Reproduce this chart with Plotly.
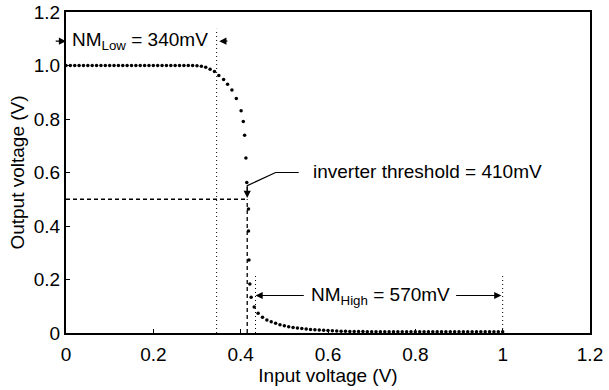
import plotly.graph_objects as go

# ---- data ----
vin_flat = [round(0.01 * i, 2) for i in range(0, 29)]
vout_flat = [1.0] * len(vin_flat)

vin_knee = [0.290, 0.300, 0.310, 0.320, 0.330, 0.340, 0.350, 0.361, 0.370, 0.380,
            0.390, 0.401, 0.406, 0.409, 0.412, 0.414, 0.418, 0.418, 0.419, 0.421,
            0.424, 0.431]
vout_knee = [1.000, 0.999, 0.997, 0.993, 0.986, 0.978, 0.963, 0.948, 0.930, 0.908,
             0.877, 0.831, 0.791, 0.739, 0.654, 0.563, 0.464, 0.381, 0.273, 0.183,
             0.134, 0.097]

vin_tail = [round(0.44 + 0.01 * i, 2) for i in range(0, 57)]
vout_tail = [0.074, 0.059, 0.049, 0.042, 0.036, 0.031, 0.027, 0.023, 0.021, 0.019,
             0.017, 0.015, 0.013, 0.012, 0.011, 0.010, 0.009, 0.008, 0.0075, 0.007,
             0.0065, 0.006, 0.006, 0.0055, 0.0055, 0.005, 0.005, 0.005, 0.005, 0.005,
             0.005, 0.005, 0.005, 0.005, 0.005, 0.005, 0.005, 0.005, 0.005, 0.005,
             0.005, 0.005, 0.005, 0.005, 0.005, 0.005, 0.005, 0.005, 0.005, 0.005,
             0.005, 0.005, 0.005, 0.005, 0.005, 0.005, 0.005]

vin = vin_flat + vin_knee + vin_tail
vout = vout_flat + vout_knee + vout_tail

x_ticks = [0, 0.2, 0.4, 0.6, 0.8, 1.0, 1.2]
x_ticktext = ["0", "0.2", "0.4", "0.6", "0.8", "1", "1.2"]
y_ticks = [0, 0.2, 0.4, 0.6, 0.8, 1.0, 1.2]
y_ticktext = ["0", "0.2", "0.4", "0.6", "0.8", "1.0", "1.2"]

v_threshold = 0.415      # inverter threshold (drawn position)
v_half = 0.5
nm_low_edge = 0.345
nm_high_edge = 0.434
v_supply = 1.0

FONT = "Liberation Sans, Arial, Helvetica, sans-serif"

fig = go.Figure()

# reference lines
fig.add_trace(go.Scatter(x=[0, v_threshold], y=[v_half, v_half], mode="lines",
                         line=dict(color="black", width=1.3, dash="4px,3px"),
                         hoverinfo="skip", showlegend=False))
fig.add_trace(go.Scatter(x=[v_threshold, v_threshold], y=[0, v_half], mode="lines",
                         line=dict(color="black", width=1.3, dash="4px,3px"),
                         hoverinfo="skip", showlegend=False))
for xv, ytop in [(nm_low_edge, 1.137), (nm_high_edge, 0.213), (v_supply, 0.213)]:
    fig.add_trace(go.Scatter(x=[xv, xv], y=[0, ytop], mode="lines",
                             line=dict(color="black", width=1, dash="1px,3px"),
                             hoverinfo="skip", showlegend=False))

# callout polyline
fig.add_trace(go.Scatter(x=[v_threshold, v_threshold, 0.480, 0.533],
                         y=[0.53, 0.551, 0.600, 0.600], mode="lines",
                         line=dict(color="black", width=1.2),
                         hoverinfo="skip", showlegend=False))

# transfer curve
fig.add_trace(go.Scatter(x=vin, y=vout, mode="markers", cliponaxis=False,
                         marker=dict(color="black", size=3.5, line=dict(width=0)),
                         showlegend=False))

def arrow(x_tip, y_tip, x_tail, y_tail):
    fig.add_annotation(x=x_tip, y=y_tip, ax=x_tail, ay=y_tail, xref="x", yref="y",
                       axref="x", ayref="y", text="", showarrow=True, arrowhead=2,
                       arrowsize=1.3, arrowwidth=1.1, arrowcolor="black", standoff=0,
                       startstandoff=0)

arrow(v_threshold, 0.505, v_threshold, 0.551)
arrow(0.0, 1.091, -0.027, 1.091)
arrow(0.351, 1.091, 0.373, 1.091)
arrow(nm_high_edge, 0.140, 0.548, 0.140)
arrow(v_supply - 0.003, 0.140, 0.890, 0.140)

fig.add_annotation(x=0.169, y=1.091, xref="x", yref="y", showarrow=False,
                   text="NM<sub>Low</sub> = 340mV", xanchor="center", yanchor="middle",
                   font=dict(family=FONT, size=19, color="black"))
fig.add_annotation(x=0.56, y=0.603, xref="x", yref="y", showarrow=False,
                   text="inverter threshold = 410mV", xanchor="left", yanchor="middle",
                   font=dict(family=FONT, size=19, color="black"))
fig.add_annotation(x=0.72, y=0.140, xref="x", yref="y", showarrow=False,
                   text="NM<sub>High</sub> = 570mV", xanchor="center", yanchor="middle",
                   font=dict(family=FONT, size=19, color="black"))

axis_common = dict(showline=True, linecolor="black", linewidth=2, mirror=True,
                   ticks="inside", ticklen=4, tickwidth=1, tickcolor="black",
                   showgrid=False, zeroline=False, automargin=False,
                   tickfont=dict(family=FONT, size=19, color="black"))

fig.update_xaxes(range=[0, 1.2], tickvals=x_ticks, ticktext=x_ticktext,
                 ticklabelstandoff=3,
                 title=dict(text="Input voltage (V)", standoff=0,
                            font=dict(family=FONT, size=19, color="black")),
                 **axis_common)
fig.update_yaxes(range=[0, 1.2], tickvals=y_ticks, ticktext=y_ticktext,
                 title=dict(text="Output voltage (V)", standoff=4,
                            font=dict(family=FONT, size=19, color="black")),
                 **axis_common)

fig.update_layout(template="none", width=609, height=390,
                  margin=dict(l=65.5, r=19.3, t=12, b=56.5, pad=0),
                  plot_bgcolor="white", paper_bgcolor="white",
                  font=dict(family=FONT, size=19, color="black"))

fig.write_html("out.html")
